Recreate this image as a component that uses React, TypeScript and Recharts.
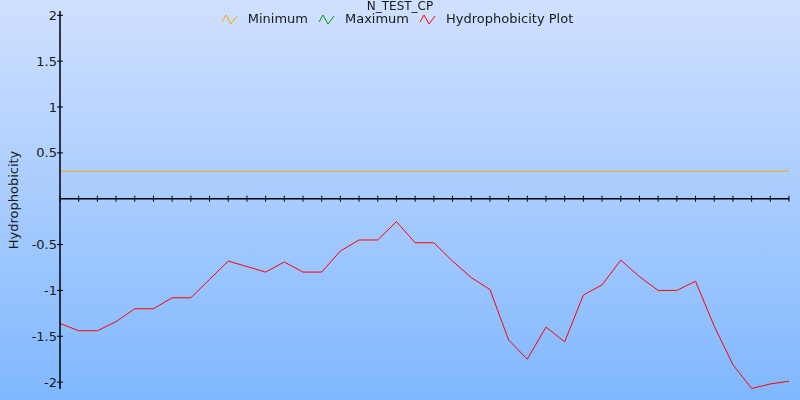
import React from "react";
import { LineChart, Line, XAxis, YAxis, ReferenceLine, ReferenceDot, Legend } from "recharts";

const positions = [
  0, 1, 2, 3, 4, 5, 6, 7, 8, 9, 10, 11, 12, 13, 14, 15, 16, 17, 18, 19,
  20, 21, 22, 23, 24, 25, 26, 27, 28, 29, 30, 31, 32, 33, 34, 35, 36, 37, 38, 39,
];

const hydrophobicity = [
  -1.36, -1.44, -1.44, -1.34, -1.2, -1.2, -1.08, -1.08, -0.88, -0.68,
  -0.74, -0.8, -0.69, -0.8, -0.8, -0.57, -0.45, -0.45, -0.25, -0.48,
  -0.48, -0.68, -0.86, -0.99, -1.54, -1.75, -1.4, -1.56, -1.05, -0.94,
  -0.67, -0.85, -1.0, -1.0, -0.9, -1.39, -1.81, -2.07, -2.02, -1.99,
];

const minimumValue = 0.3;
const yTicks = [2, 1.5, 1, 0.5, -0.5, -1, -1.5, -2];

const legendItems = [
  { name: "Minimum", color: "#ffa000" },
  { name: "Maximum", color: "#009900" },
  { name: "Hydrophobicity Plot", color: "#ff0000" },
];

const data = positions.map((pos, i) => ({ pos, value: hydrophobicity[i] }));

const FONT = "'DejaVu Sans', Verdana, sans-serif";

function YTick(props: any) {
  const { x, y, payload } = props;
  return (
    <g>
      <line x1={x + 1} x2={x + 7} y1={y} y2={y} stroke="#000" strokeWidth={1} />
      <text
        x={x + 1}
        y={y}
        dy={4.5}
        textAnchor="end"
        fontSize={13}
        fontFamily={FONT}
        fill="#1a1a1a"
      >
        {payload.value}
      </text>
    </g>
  );
}

function ZeroTick(props: any) {
  const { cx, cy } = props;
  return <line x1={cx} x2={cx} y1={cy - 3} y2={cy + 3} stroke="#000" strokeWidth={1} />;
}

function ChartLegend() {
  return (
    <div style={{ fontFamily: FONT, fontSize: 13, color: "#1a1a1a", position: "relative" }}>
      <div
        style={{
          position: "absolute",
          top: 0,
          left: 0,
          width: 800,
          textAlign: "center",
          fontSize: 12,
          lineHeight: "13px",
        }}
      >
        N_TEST_CP
      </div>
      <div
        style={{
          position: "absolute",
          top: 12,
          left: 0,
          width: 800,
          display: "flex",
          justifyContent: "center",
          paddingLeft: 2,
          lineHeight: "14px",
        }}
      >
        {legendItems.map((item) => (
          <div key={item.name} style={{ display: "flex", alignItems: "center", marginRight: 10 }}>
            <svg width={18} height={12} style={{ marginRight: 9 }}>
              <polyline
                points="1,9 5,2 10,11 16,3"
                fill="none"
                stroke={item.color}
                strokeWidth={1}
              />
            </svg>
            <span>{item.name}</span>
          </div>
        ))}
      </div>
    </div>
  );
}

export default function App() {
  return (
    <div
      style={{
        position: "fixed",
        left: 0,
        top: 0,
        width: 800,
        height: 400,
        background: "linear-gradient(to bottom, #d0e0ff 0%, #80b8fe 100%)",
      }}
    >
      <LineChart
        width={800}
        height={400}
        data={data}
        margin={{ top: 11, right: 11, bottom: 11, left: 0 }}
      >
        <XAxis dataKey="pos" type="number" domain={[0, 39]} hide />
        <YAxis
          width={60}
          domain={[-2.075, 2.047]}
          ticks={yTicks}
          interval={0}
          tickLine={false}
          tickSize={4}
          tickMargin={0}
          axisLine={{ stroke: "#000", strokeWidth: 1.5 }}
          tick={<YTick />}
          label={{
            value: "Hydrophobicity",
            angle: -90,
            position: "insideLeft",
            offset: 13,
            style: { fontFamily: FONT, fontSize: 13, fill: "#1a1a1a", textAnchor: "middle" },
          }}
        />
        <Legend verticalAlign="top" content={<ChartLegend />} wrapperStyle={{ top: 0, left: 0 }} />
        <ReferenceLine y={minimumValue} stroke="#f0a020" strokeWidth={1} ifOverflow="extendDomain" />
        <ReferenceLine y={0} stroke="#000" strokeWidth={1.5} />
        {positions.map((p) => (
          <ReferenceDot key={p} x={p} y={0} r={0} shape={<ZeroTick />} />
        ))}
        <Line
          type="linear"
          dataKey="value"
          stroke="#ff0000"
          strokeWidth={1}
          dot={false}
          isAnimationActive={false}
          legendType="none"
        />
      </LineChart>
    </div>
  );
}
